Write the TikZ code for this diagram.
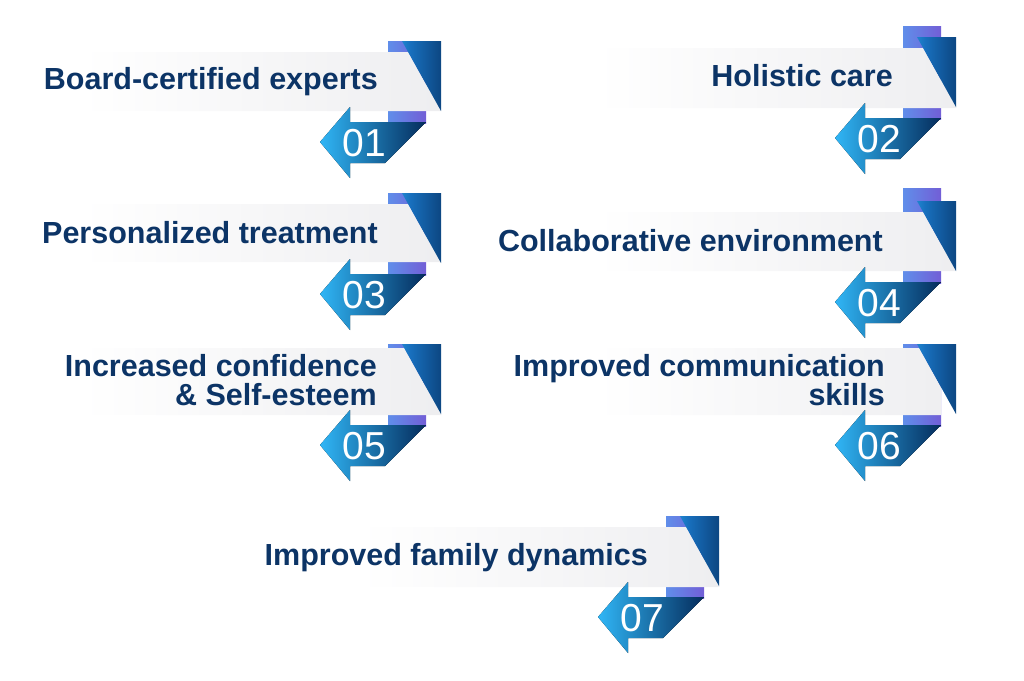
\documentclass[tikz,border=0pt]{standalone}
\usepackage{fontspec}
\setmainfont{Liberation Sans}
\definecolor{navy}{RGB}{12,52,102}
\definecolor{cyanA}{RGB}{48,182,246}
\definecolor{blueM}{RGB}{24,112,190}
\definecolor{navyD}{RGB}{5,44,92}
\definecolor{purA}{RGB}{96,142,234}
\definecolor{purB}{RGB}{114,94,214}
\definecolor{bandR}{RGB}{225,226,229}
\definecolor{bandM}{RGB}{240,240,242}
\pgfdeclarehorizontalshading{bandshade}{100bp}{color(0bp)=(white); color(30bp)=(white); color(70bp)=(bandM); color(100bp)=(bandR)}
\pgfdeclarehorizontalshading{triangleshade}{100bp}{color(0bp)=(cyanA); color(35bp)=(blueM); color(100bp)=(navyD)}
\tikzset{
  numtext/.style={text=white, font=\fontsize{39}{39}\selectfont, inner sep=0pt},
  titletext/.style={text=navy, font=\fontsize{30.5}{29}\selectfont\bfseries, inner sep=0pt, align=right, anchor=base east},
  purplebar/.style={left color=purA, right color=purB},
  bandfill/.style={shading=bandshade},
  bluefill/.style={shading=triangleshade},
  arrowfill/.style={left color=cyanA, middle color=blueM, right color=navyD}
}
% #1 R, #2 Y0, #3 purple top, #4 band top, #5 band bottom, #6 band clip x, #7 number, #8 node name
\newcommand\ribbonitem[8]{%
  \fill[purplebar] ({#1-53},#3) rectangle ({#1-15},{#2+82});
  \begin{scope}
    \clip ({#1-440},{#2-30}) rectangle (#6,{#2+100});
    \shade[bandfill] ({#1-400},#4) -- ({#1-39+39*(#4-#2)/70},#4) -- ({#1-39+39*(#5-#2)/70},#5) -- ({#1-400},#5) -- cycle;
  \end{scope}
  \shade[bluefill] ({#1-39},#2) -- (#1,#2) -- (#1,{#2+70}) -- cycle;
  \fill[arrowfill] ({#1-121},{#2+101}) -- ({#1-91},{#2+66}) -- ({#1-91},{#2+81}) -- ({#1-15},{#2+81}) -- ({#1-56},{#2+122}) -- ({#1-91},{#2+122}) -- ({#1-91},{#2+137}) -- cycle;
  \node[numtext] (#8) at ({#1-77},{#2+102}) {#7};
}
\begin{document}
\begin{tikzpicture}[x=1pt,y=-1pt]
\useasboundingbox (0,0) rectangle (1024,680);
\ribbonitem{441}{41}{41}{52}{111}{450}{01}{n1}
\ribbonitem{956}{37}{26}{48}{108}{965}{02}{n2}
\ribbonitem{441}{193}{193}{204}{262}{450}{03}{n3}
\ribbonitem{956}{201}{188}{212}{271}{965}{04}{n4}
\ribbonitem{441}{344}{344}{348}{415}{450}{05}{n5}
\ribbonitem{956}{344}{344}{348}{415}{941}{06}{n6}
\ribbonitem{719}{516}{516}{527}{587}{728}{07}{n7}
\node[titletext] (t1) at (378,89) {Board-certified experts};
\node[titletext] (t2) at (893,86) {Holistic care};
\node[titletext] (t3) at (378,243) {Personalized treatment};
\node[titletext] (t4) at (883,251) {Collaborative environment};
\node[titletext] (t5) at (377,405) {Increased confidence\\ \& Self-esteem};
\node[titletext] (t6) at (885,405) {Improved communication\\ skills};
\node[titletext] (t7) at (648,565) {Improved family dynamics};
\end{tikzpicture}
\end{document}
